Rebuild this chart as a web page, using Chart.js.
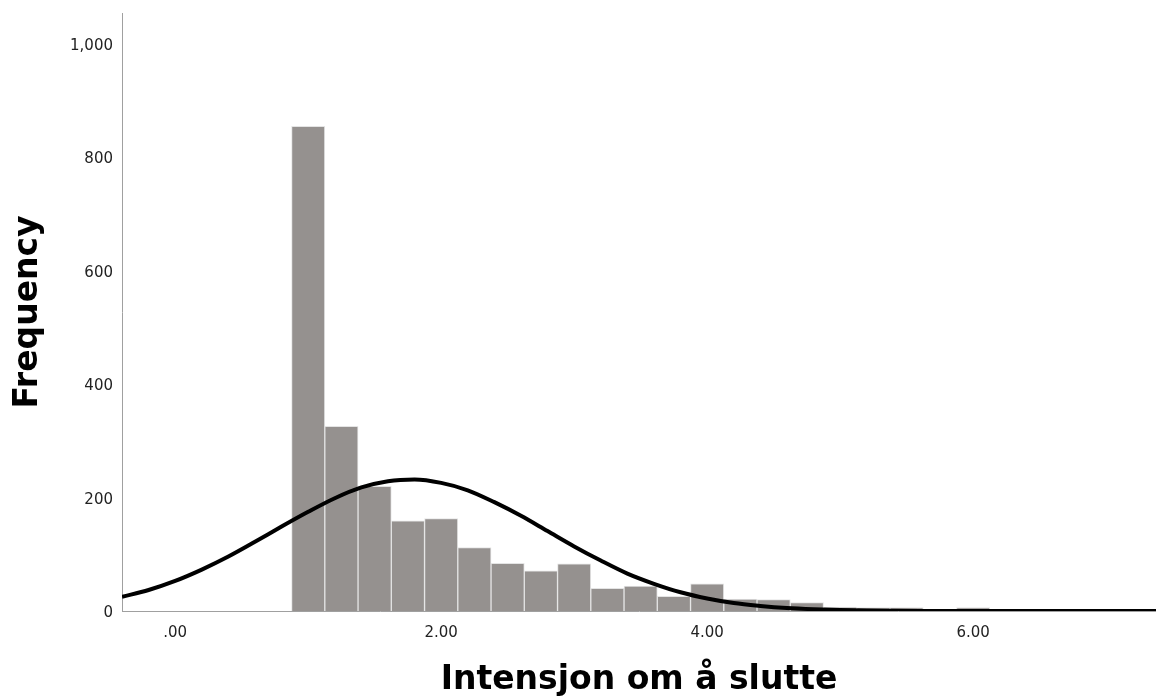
<!DOCTYPE html>
<html>
<head>
<meta charset="utf-8">
<script src="https://cdn.jsdelivr.net/npm/chart.js@4/dist/chart.umd.min.js"></script>
<style>
  html, body { margin: 0; padding: 0; background: #ffffff; }
  #wrap { width: 1156px; height: 700px; }
</style>
</head>
<body>
<div id="wrap"><canvas id="c" width="1156" height="700"></canvas></div>
<script>
// Histogram bins (bin centers, width 0.25)
const binCenters = [1.00, 1.25, 1.50, 1.75, 2.00, 2.25, 2.50, 2.75, 3.00, 3.25, 3.50, 3.75, 4.00, 4.25, 4.50, 4.75, 5.00, 5.25, 5.50, 5.75, 6.00];
const binCounts  = [855, 326, 220, 159, 163, 112, 84, 71, 83, 40, 44, 26, 48, 21, 20, 15, 7, 6, 6, 0, 6];

// Normal curve
const curveX = [-0.4, -0.2, 0.0, 0.2, 0.4, 0.6, 0.8, 1.0, 1.2, 1.4, 1.6, 1.8, 2.0, 2.2, 2.4, 2.6, 2.8, 3.0, 3.2, 3.4, 3.6, 3.8, 4.0, 4.2, 4.4, 4.6, 4.8, 5.0, 5.2, 5.4, 5.6, 5.8, 6.0, 6.2, 6.4, 6.6, 6.8, 7.0, 7.2, 7.4];
const curveY = [25, 37, 53, 73, 96, 122, 149, 175, 199, 218, 229, 232, 226, 213, 192, 168, 141, 114, 89, 66, 48, 33, 22, 14, 9, 5.3, 3.1, 1.7, 0.9, 0.5, 0.2, 0.1, 0, 0, 0, 0, 0, 0, 0, 0];

// Axis ticks
const xTickValues = [0, 2, 4, 6];
const xTickLabels = ['.00', '2.00', '4.00', '6.00'];
const yTickValues = [0, 200, 400, 600, 800, 1000];
const yTickLabels = ['0', '200', '400', '600', '800', '1,000'];

const xTitle = 'Intensjon om å slutte';
const yTitle = 'Frequency';

const barData = binCenters.map((x, i) => ({ x: x, y: binCounts[i] }));
const lineData = curveX.map((x, i) => ({ x: x, y: curveY[i] }));

const tickFont = { family: 'DejaVu Sans', size: 15 };
const titleFontFamily = 'DejaVu Sans';

new Chart(document.getElementById('c'), {
  type: 'bar',
  data: {
    datasets: [
      {
        type: 'line',
        data: lineData,
        borderColor: '#000000',
        borderWidth: 4,
        pointRadius: 0,
        fill: false,
        cubicInterpolationMode: 'monotone',
        order: 1
      },
      {
        type: 'bar',
        data: barData,
        backgroundColor: '#95918f',
        borderColor: '#e4e4e4',
        borderWidth: 1,
        barPercentage: 1.0,
        categoryPercentage: 1.0,
        order: 2
      }
    ]
  },
  options: {
    responsive: false,
    animation: false,
    devicePixelRatio: 1,
    layout: { padding: { top: 13, right: 0, bottom: 0, left: 0 } },
    plugins: { legend: { display: false }, tooltip: { enabled: false } },
    scales: {
      x: {
        type: 'linear',
        min: -0.4,
        max: 7.375,
        offset: false,
        grid: { display: false, drawTicks: false, offset: false },
        border: { display: true, color: '#a0a0a0', width: 1 },
        afterBuildTicks: s => { s.ticks = xTickValues.map(v => ({ value: v })); },
        afterFit: s => { s.height = 89; s.paddingLeft = 0; s.paddingRight = 0; },
        ticks: {
          font: tickFont,
          color: '#222222',
          padding: 13,
          maxRotation: 0,
          callback: (v) => xTickLabels[xTickValues.indexOf(v)]
        },
        title: {
          display: true,
          text: xTitle,
          font: { family: titleFontFamily, size: 33, weight: 'bold' },
          color: '#000000',
          padding: { top: 0, bottom: 0 }
        }
      },
      y: {
        type: 'linear',
        min: 0,
        max: 1055,
        grid: { display: false, drawTicks: false },
        border: { display: true, color: '#a0a0a0', width: 1 },
        afterBuildTicks: s => { s.ticks = yTickValues.map(v => ({ value: v })); },
        afterFit: s => { s.width = 122; s.paddingTop = 0; s.paddingBottom = 0; },
        ticks: {
          font: tickFont,
          color: '#222222',
          padding: 9,
          labelOffset: 2,
          callback: (v) => yTickLabels[yTickValues.indexOf(v)]
        },
        title: {
          display: true,
          text: yTitle,
          font: { family: titleFontFamily, size: 33, weight: 'bold' },
          color: '#000000',
          padding: { top: 9, bottom: 0 }
        }
      }
    }
  }
});
</script>
</body>
</html>
